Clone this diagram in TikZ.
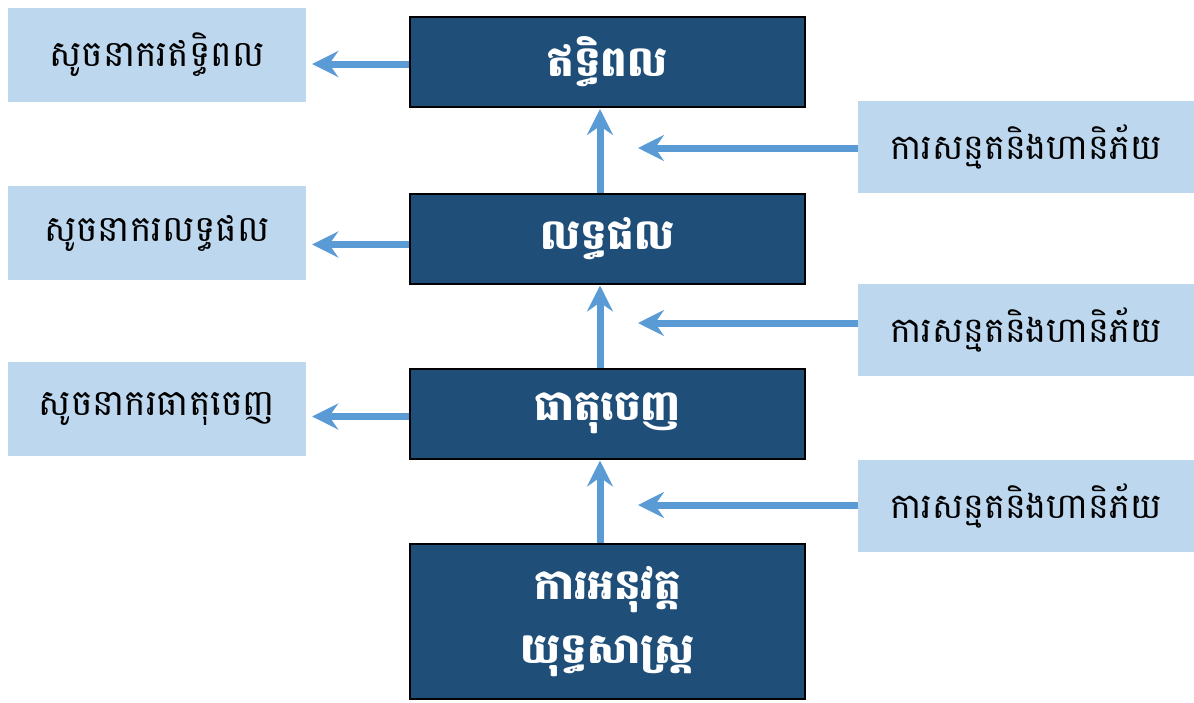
\documentclass[tikz,border=0pt]{standalone}
\usepackage{fontspec}
\newfontfamily\kh[Script=Khmer]{Battambang}
\usetikzlibrary{arrows.meta,calc}
\definecolor{darkbox}{HTML}{1F4E79}
\definecolor{lightbox}{HTML}{BDD7EE}
\definecolor{arrowc}{HTML}{5B9BD5}
\begin{document}
\begin{tikzpicture}[x=1pt,y=-1pt,
  lbox/.style={fill=lightbox,draw=none,minimum width=298pt,minimum height=94pt,inner sep=0pt,font=\kh\fontsize{36}{40}\selectfont,text=black},
  rbox/.style={fill=lightbox,draw=none,minimum width=336pt,minimum height=92pt,inner sep=0pt,font=\kh\fontsize{35}{40}\selectfont,text=black},
  cbox/.style={fill=darkbox,draw=black,line width=2pt,minimum width=395pt,minimum height=90pt,inner sep=0pt,font=\kh\bfseries\fontsize{42}{64}\selectfont,text=white,align=center},
  arr/.style={draw=arrowc,line width=7pt,-{Stealth[length=26pt,width=26pt,inset=9pt]}}]
\useasboundingbox (0,0) rectangle (1194,702);
% centre column
\node[cbox] (imp) at (607.5,62) {ឥទ្ធិពល};
\node[cbox] (out) at (607.5,238.5) {លទ្ធផល};
\node[cbox] (opt) at (607.5,413.5) {ធាតុចេញ};
\node[cbox,minimum height=155pt] (str) at (607.5,621.5) {ការអនុវត្ត\\យុទ្ធសាស្ត្រ};
% left indicators
\node[lbox] (li) at (157,55) {សូចនាករឥទ្ធិពល};
\node[lbox] (lo) at (157,233) {សូចនាករលទ្ធផល};
\node[lbox] (lp) at (157,408.5) {សូចនាករធាតុចេញ};
% right assumptions
\node[rbox] (r1) at (1026,147) {ការសន្មតនិងហានិភ័យ};
\node[rbox] (r2) at (1026,329.5) {ការសន្មតនិងហានិភ័យ};
\node[rbox] (r3) at (1026,505.5) {ការសន្មតនិងហានិភ័យ};
% targets of right arrows
\coordinate (t1) at (638,148);
\coordinate (t2) at (638,323);
\coordinate (t3) at (638,505);
% vertical arrows
\draw[arr] ([xshift=-7.5pt]str.north) -- ([xshift=-7.5pt,yshift=-1pt]opt.south);
\draw[arr] ([xshift=-7.5pt]opt.north) -- ([xshift=-7.5pt,yshift=-1pt]out.south);
\draw[arr] ([xshift=-7.5pt]out.north) -- ([xshift=-7.5pt,yshift=-1pt]imp.south);
% left arrows
\draw[arr,shorten >=6pt] ([yshift=-2pt]imp.west) -- ([yshift=-2pt]imp.west -| li.east);
\draw[arr,shorten >=6pt] ([yshift=-6pt]out.west) -- ([yshift=-6pt]out.west -| lo.east);
\draw[arr,shorten >=6pt] ([yshift=-3pt]opt.west) -- ([yshift=-3pt]opt.west -| lp.east);
% right arrows
\draw[arr] (r1.west |- t1) -- (t1);
\draw[arr] (r2.west |- t2) -- (t2);
\draw[arr] (r3.west |- t3) -- (t3);
\end{tikzpicture}
\end{document}
